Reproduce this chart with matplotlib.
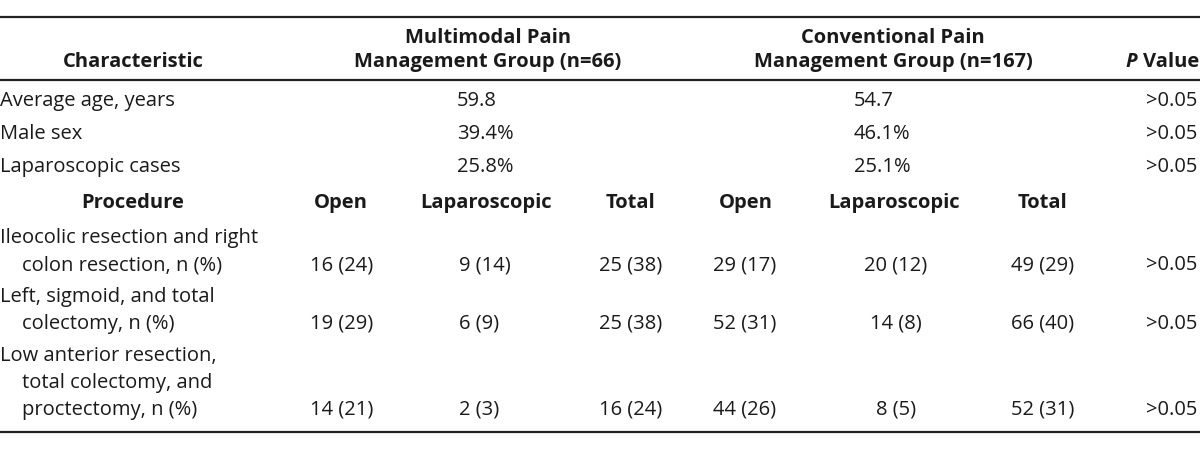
import matplotlib
matplotlib.use("Agg")
import matplotlib.pyplot as plt
from matplotlib.transforms import offset_copy

# ---- data ----
group_headers = ["Multimodal Pain\nManagement Group (n=66)", "Conventional Pain\nManagement Group (n=167)"]
characteristics = ["Average age, years", "Male sex", "Laparoscopic cases"]
multimodal_char = ["59.8", "39.4%", "25.8%"]
conventional_char = ["54.7", "46.1%", "25.1%"]
char_p = [">0.05", ">0.05", ">0.05"]

sub_headers = ["Open", "Laparoscopic", "Total", "Open", "Laparoscopic", "Total"]
procedures = [
    ["Ileocolic resection and right", "colon resection, n (%)"],
    ["Left, sigmoid, and total", "colectomy, n (%)"],
    ["Low anterior resection,", "total colectomy, and", "proctectomy, n (%)"],
]
mm_open = ["16 (24)", "19 (29)", "14 (21)"]
mm_lap = ["9 (14)", "6 (9)", "2 (3)"]
mm_total = ["25 (38)", "25 (38)", "16 (24)"]
cv_open = ["29 (17)", "52 (31)", "44 (26)"]
cv_lap = ["20 (12)", "14 (8)", "8 (5)"]
cv_total = ["49 (29)", "66 (40)", "52 (31)"]
proc_p = [">0.05", ">0.05", ">0.05"]

# ---- layout ----
FONT = "Open Sans"
FS = 14.5
col = "#1a1a1a"
fig = plt.figure(figsize=(12, 4.62), dpi=100)
ax = fig.add_axes([0, 0, 1, 1])
ax.set_xlim(0, 1200)
ax.set_ylim(462, 0)
ax.axis("off")

def t(x, y, s, ha="center", bold=False, style="normal"):
    return ax.text(x, y, s, ha=ha, va="center", fontsize=FS, family=FONT,
                   fontweight="bold" if bold else "normal", fontstyle=style, color=col)

# rules
for y in [17, 80, 432]:
    ax.plot([0, 1200], [y, y], color="#222222", lw=1.6, solid_capstyle="butt")

# header
t(133, 62, "Characteristic", bold=True)
gx = [488, 893]
for x, h in zip(gx, group_headers):
    l1, l2 = h.split("\n")
    t(x, 38, l1, bold=True)
    t(x, 62, l2, bold=True)
val = t(1199, 62, "Value", ha="right", bold=True)
fig.canvas.draw()
bb = val.get_window_extent()
x_left = ax.transData.inverted().transform((bb.x0, 0))[0]
t(x_left - 6, 62, "P", ha="right", bold=True, style="italic")

# characteristic rows
ys = [101, 134, 167]
for y, c, a, b, p in zip(ys, characteristics, multimodal_char, conventional_char, char_p):
    t(0, y, c, ha="left")
    t(457, y, a, ha="left")
    t(854, y, b, ha="left")
    t(1197, y, p, ha="right")

# procedure header
t(133, 203, "Procedure", bold=True)
sx = [341, 486, 631, 746, 894, 1043]
for x, s in zip(sx, sub_headers):
    t(x, 203, s, bold=True)

# procedure rows
line_h = 27
last_y = [265, 324, 410]
for i, (lines, yb) in enumerate(zip(procedures, last_y)):
    n = len(lines)
    for k, s in enumerate(lines):
        yy = yb - (n - 1 - k) * line_h
        t(0 if k == 0 else 22, yy, s, ha="left")
    t(342, yb, mm_open[i])
    t(459, yb, mm_lap[i], ha="left")
    t(631, yb, mm_total[i])
    t(745, yb, cv_open[i])
    t(896, yb, cv_lap[i])
    t(1043, yb, cv_total[i])
    t(1197, yb, proc_p[i], ha="right")

fig.savefig("out.png", dpi=100)
